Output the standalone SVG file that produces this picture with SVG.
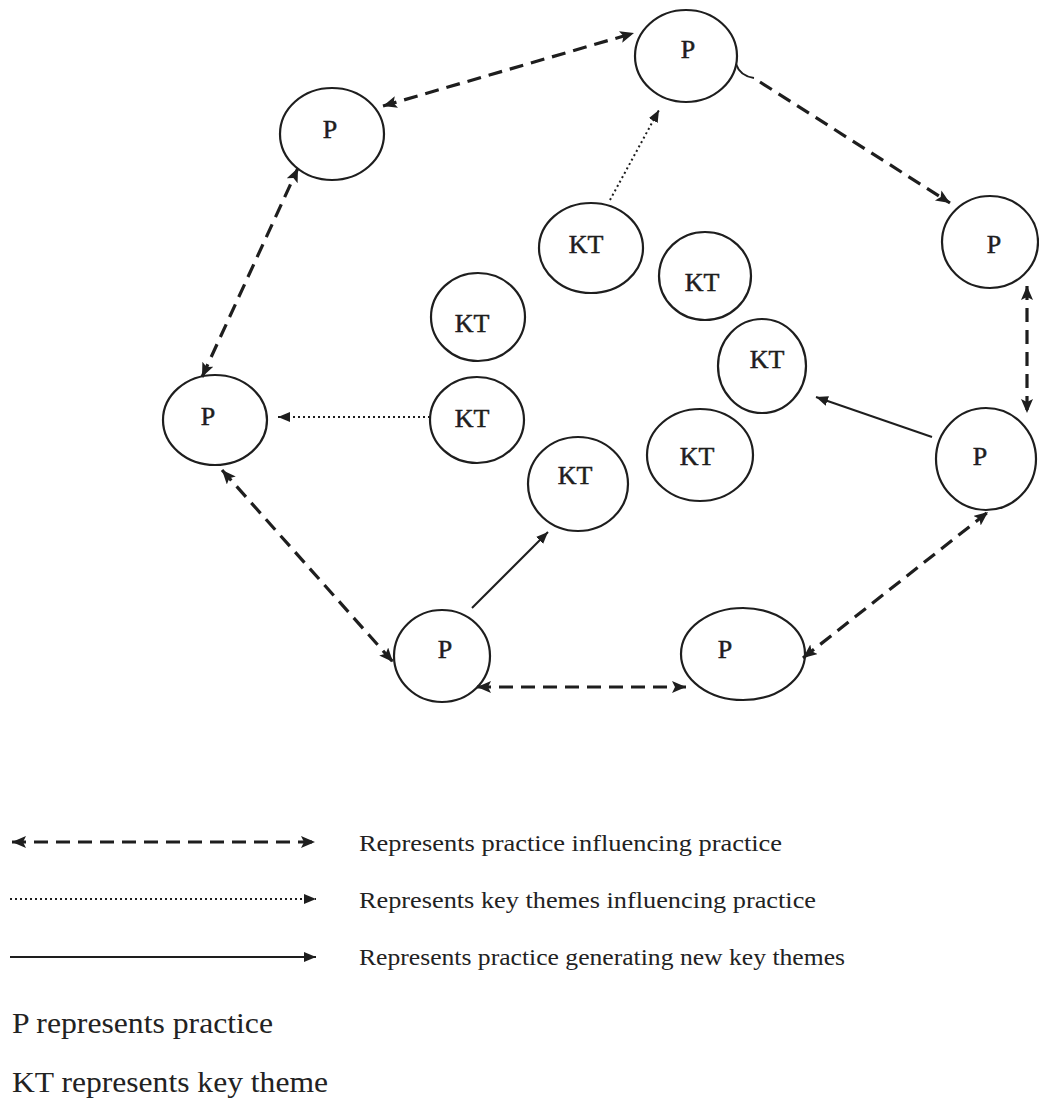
<svg xmlns="http://www.w3.org/2000/svg" width="1039" height="1098" viewBox="0 0 1039 1098">
<style>
.node ellipse{fill:none;stroke:#1e1e1e;stroke-width:2.2}
.node text{font-family:"Liberation Serif","Times New Roman",serif;font-size:26px;fill:#1e1e1e;stroke:#1e1e1e;stroke-width:0.5;text-anchor:middle}
.dash{fill:none;stroke:#1e1e1e;stroke-width:3.2;stroke-dasharray:14 8}
.dot{fill:none;stroke:#1e1e1e;stroke-width:2;stroke-dasharray:2 3}
.solid{fill:none;stroke:#1e1e1e;stroke-width:2}
.leg{font-family:"Liberation Serif","Times New Roman",serif;fill:#222}
</style>
<defs>
<marker id="ah" markerUnits="userSpaceOnUse" markerWidth="16" markerHeight="14" refX="14" refY="6" orient="auto-start-reverse">
<path d="M0,0 L14,6 L0,12 L3,6 z" fill="#1e1e1e"/>
</marker>
<marker id="as" markerUnits="userSpaceOnUse" markerWidth="14" markerHeight="12" refX="12" refY="5" orient="auto-start-reverse">
<path d="M0,0 L12,5 L0,10 z" fill="#1e1e1e"/>
</marker>
</defs>
<rect width="1039" height="1098" fill="#ffffff"/>
<g id="connectors">
<path class="dash" d="M383,106 L634,33" marker-start="url(#ah)" marker-end="url(#ah)"/>
<path class="solid" d="M736,64 Q740,76 754,78" stroke-width="2.5"/>
<path class="dash" d="M760,82 L950,203" marker-end="url(#ah)"/>
<path class="dash" d="M1027,286 L1027,413" marker-start="url(#ah)" marker-end="url(#ah)"/>
<path class="dash" d="M803,658 L988,512" marker-start="url(#ah)" marker-end="url(#ah)"/>
<path class="dash" d="M477,687 L686,687" marker-start="url(#ah)" marker-end="url(#ah)"/>
<path class="dash" d="M222,470 L393,662" marker-start="url(#ah)" marker-end="url(#ah)"/>
<path class="dash" d="M202,377 L298,168" marker-start="url(#ah)" marker-end="url(#ah)"/>
<path class="dot" d="M610,200 L659,110" marker-end="url(#as)"/>
<path class="dot" d="M430,417 L278,417" marker-end="url(#as)"/>
<path class="solid" d="M472,608 L548,532" marker-end="url(#as)"/>
<path class="solid" d="M932,437 L816,397" marker-end="url(#as)"/>
</g>
<g id="p1" class="node"><ellipse cx="332" cy="134" rx="52" ry="46"/><text x="330" y="138">P</text></g>
<g id="p2" class="node"><ellipse cx="686" cy="56" rx="51" ry="46"/><text x="688" y="58">P</text></g>
<g id="p3" class="node"><ellipse cx="990" cy="242" rx="48" ry="46"/><text x="994" y="253">P</text></g>
<g id="p4" class="node"><ellipse cx="986" cy="459" rx="50" ry="51"/><text x="980" y="465">P</text></g>
<g id="p5" class="node"><ellipse cx="743" cy="654" rx="62" ry="46"/><text x="725" y="658">P</text></g>
<g id="p6" class="node"><ellipse cx="442" cy="656" rx="48" ry="46"/><text x="445" y="658">P</text></g>
<g id="p7" class="node"><ellipse cx="215" cy="420" rx="52" ry="45"/><text x="208" y="425">P</text></g>
<g id="kt1" class="node"><ellipse cx="591" cy="248" rx="52" ry="45"/><text x="586" y="253">KT</text></g>
<g id="kt2" class="node"><ellipse cx="705" cy="276" rx="46" ry="44"/><text x="702" y="291">KT</text></g>
<g id="kt3" class="node"><ellipse cx="762" cy="366" rx="44" ry="47"/><text x="767" y="368">KT</text></g>
<g id="kt4" class="node"><ellipse cx="700" cy="455" rx="53" ry="46"/><text x="697" y="465">KT</text></g>
<g id="kt5" class="node"><ellipse cx="578" cy="484" rx="50" ry="47"/><text x="575" y="484">KT</text></g>
<g id="kt6" class="node"><ellipse cx="478" cy="317" rx="47" ry="44"/><text x="472" y="332">KT</text></g>
<g id="kt7" class="node"><ellipse cx="477" cy="420" rx="47" ry="43"/><text x="472" y="427">KT</text></g>
<g id="legend">
<path class="dash" d="M12,842 L315,842" stroke-dasharray="13 8" marker-start="url(#ah)" marker-end="url(#ah)"/>
<path class="dot" d="M10,899 L316,899" marker-end="url(#as)"/>
<path class="solid" d="M10,957 L316,957" marker-end="url(#as)"/>
<text class="leg" x="359" y="851" font-size="24" textLength="423" lengthAdjust="spacingAndGlyphs">Represents practice influencing practice</text>
<text class="leg" x="359" y="908" font-size="24" textLength="457" lengthAdjust="spacingAndGlyphs">Represents key themes influencing practice</text>
<text class="leg" x="359" y="965" font-size="24" textLength="486" lengthAdjust="spacingAndGlyphs">Represents practice generating new key themes</text>
<text class="leg" x="12" y="1033" font-size="29" textLength="261" lengthAdjust="spacingAndGlyphs">P represents practice</text>
<text class="leg" x="12" y="1092" font-size="29" textLength="316" lengthAdjust="spacingAndGlyphs">KT represents key theme</text>
</g>
</svg>
